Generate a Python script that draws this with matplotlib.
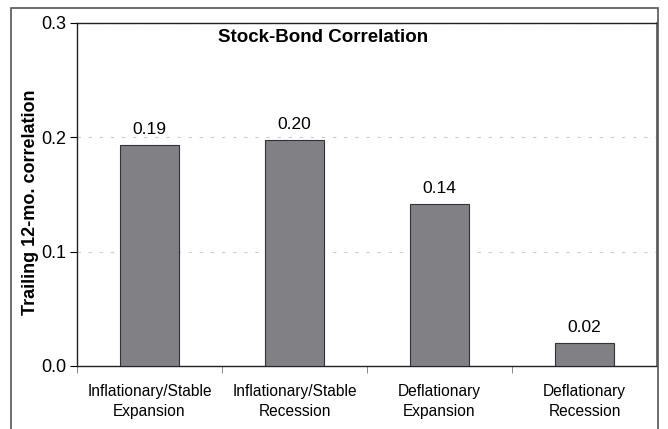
import matplotlib
matplotlib.use("Agg")
import matplotlib.pyplot as plt
from matplotlib.patches import Rectangle

plt.rcParams['font.family'] = ['Liberation Sans', 'DejaVu Sans']

categories = ["Inflationary/Stable\nExpansion", "Inflationary/Stable\nRecession",
              "Deflationary\nExpansion", "Deflationary\nRecession"]
values = [0.193, 0.198, 0.142, 0.020]
labels = ["0.19", "0.20", "0.14", "0.02"]

fig = plt.figure(figsize=(6.68, 4.29), dpi=100)
ax = fig.add_axes([77/668, 1 - 366/429, 580/668, 343/429])

# outer frame (bottom runs off the image)
fig.patches.append(Rectangle((11/668, -0.1), 647/668, 1.1 - 8/429,
                             transform=fig.transFigure, fill=False,
                             edgecolor="#555555", linewidth=1.2))

x = list(range(len(values)))
ax.bar(x, values, width=0.41, color="#808085", edgecolor="#333333", linewidth=0.8, zorder=3)
for xi, v, lab in zip(x, values, labels):
    ax.text(xi, v + 0.007, lab, ha="center", va="bottom", fontsize=12.5)

ax.set_xlim(-0.5, 3.5)
ax.set_ylim(0, 0.3)
ax.set_yticks([0.0, 0.1, 0.2, 0.3])
ax.set_yticklabels(["0.0", "0.1", "0.2", "0.3"], fontsize=13)
ax.yaxis.grid(True, linestyle=(0, (3, 7)), color="#cccccc", linewidth=0.8)
ax.set_axisbelow(True)

ax.set_xticks(x)
ax.set_xticklabels(categories, fontsize=11.2, linespacing=1.45)
ax.tick_params(axis="x", length=0, pad=13)
ax.set_xticks([-0.5, 0.5, 1.5, 2.5], minor=True)
ax.tick_params(axis="x", which="minor", length=5, color="#777777")
ax.tick_params(axis="y", length=5, width=0.8, pad=3)

for s in ["top", "left", "bottom"]:
    ax.spines[s].set_color("#222222")
    ax.spines[s].set_linewidth(1.0)
ax.spines["right"].set_color("#555555")
ax.spines["right"].set_linewidth(1.2)

ax.text(0.424, 0.958, "Stock-Bond Correlation", transform=ax.transAxes,
        ha="center", va="center", fontsize=13.5, fontweight="bold")
ax.set_ylabel("Trailing 12-mo. correlation", fontsize=13, fontweight="bold")
ax.yaxis.set_label_coords(-0.066, 0.478)

fig.savefig("out.png", dpi=100)
